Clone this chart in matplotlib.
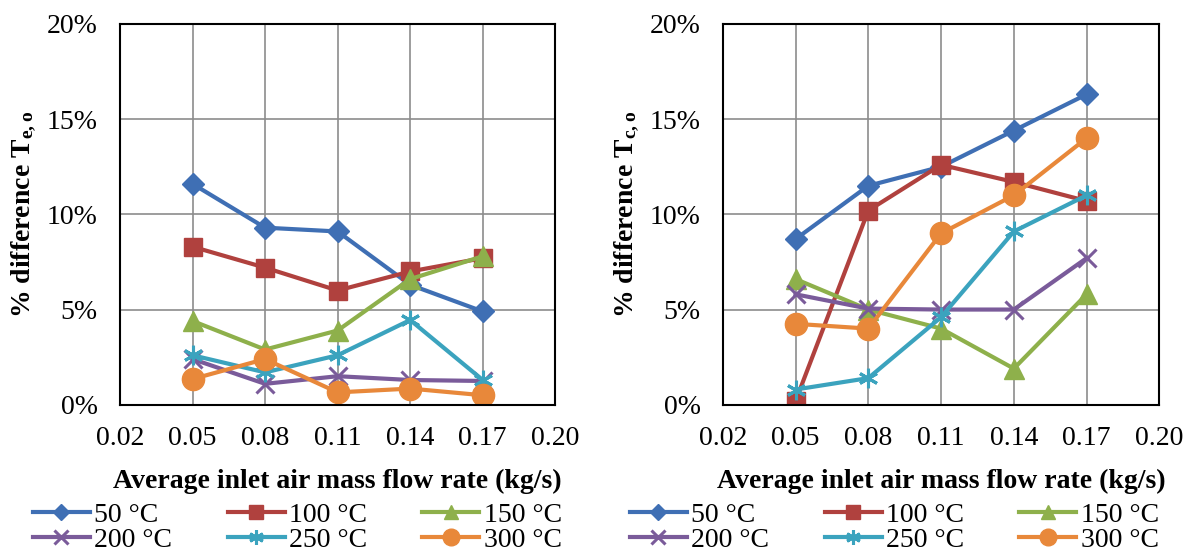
import matplotlib
matplotlib.use('Agg')
import matplotlib.pyplot as plt
from matplotlib.ticker import PercentFormatter


flow = [0.05, 0.08, 0.11, 0.14, 0.17]
x_ticks = [0.02, 0.05, 0.08, 0.11, 0.14, 0.17, 0.20]
labels = ['50 °C', '100 °C', '150 °C', '200 °C', '250 °C', '300 °C']

# % difference T_e,o (left)
te_50 = [11.6, 9.3, 9.1, 6.3, 4.9]
te_100 = [8.3, 7.2, 6.0, 7.0, 7.7]
te_150 = [4.4, 2.9, 3.9, 6.6, 7.8]
te_200 = [2.4, 1.1, 1.5, 1.3, 1.25]
te_250 = [2.6, 1.7, 2.6, 4.45, 1.3]
te_300 = [1.35, 2.4, 0.65, 0.85, 0.5]

# % difference T_c,o (right)
tc_50 = [8.7, 11.5, 12.5, 14.4, 16.3]
tc_100 = [0.2, 10.2, 12.6, 11.7, 10.7]
tc_150 = [6.6, 5.0, 4.0, 1.9, 5.8]
tc_200 = [5.8, 5.05, 5.0, 5.0, 7.7]
tc_250 = [0.8, 1.4, 4.6, 9.1, 11.0]
tc_300 = [4.25, 4.0, 9.0, 11.0, 14.0]

COLORS = ['#3F6FB4', '#B0413E', '#8EB04B', '#7A5B9A', '#3BA3BE', '#E8883A']
MARKERS = ['D', 's', '^', 'x', (6, 2, 0), 'o']
SIZES = [11, 13, 14, 13, 14, 16]

plt.rcParams['font.family'] = ['Liberation Serif', 'DejaVu Serif']
plt.rcParams['mathtext.fontset'] = 'custom'
plt.rcParams['mathtext.rm'] = 'Liberation Serif'
plt.rcParams['mathtext.bf'] = 'Liberation Serif:bold'

FS = 20


def panel(fig, rect, series, ylabel, leg_x):
    ax = fig.add_axes(rect)
    handles = []
    for vals, c, m, s, lab in zip(series, COLORS, MARKERS, SIZES, labels):
        mew = 2.2 if m in ('x', (6, 2, 0)) else 1
        h, = ax.plot(flow, vals, color=c, marker=m, markersize=s, lw=3,
                     markeredgewidth=mew, label=lab)
        handles.append(h)
    ax.set_xlim(0.02, 0.20)
    ax.set_ylim(0, 20)
    ax.set_xticks(x_ticks)
    ax.set_xticklabels(['%.2f' % t for t in x_ticks])
    ax.set_yticks([0, 5, 10, 15, 20])
    ax.yaxis.set_major_formatter(PercentFormatter(decimals=0))
    ax.grid(True, color='#8c8c8c', lw=1.2)
    ax.set_axisbelow(True)
    ax.tick_params(labelsize=FS, length=0)
    ax.tick_params(axis='x', pad=15)
    ax.tick_params(axis='y', pad=16)
    for sp in ax.spines.values():
        sp.set_linewidth(1.5)
    ax.set_xlabel('Average inlet air mass flow rate (kg/s)', fontsize=FS,
                  fontweight='bold', labelpad=13)
    ax.set_ylabel(ylabel, fontsize=FS, fontweight='bold', labelpad=6)
    # row-major legend order: 50,100,150 / 200,250,300
    order = [0, 3, 1, 4, 2, 5]
    fig.legend(handles=[handles[i] for i in order], ncol=3, loc='upper left',
               bbox_to_anchor=(leg_x, 0.097), frameon=False, fontsize=FS,
               handlelength=2.05, handletextpad=0.15, columnspacing=2.0,
               labelspacing=0.0, borderaxespad=0, borderpad=0,
               markerscale=0.75)
    return ax


fig = plt.figure(figsize=(11.83, 5.56), dpi=100)
panel(fig, [0.1014, 0.272, 0.368, 0.685],
      [te_50, te_100, te_150, te_200, te_250, te_300],
      r'% difference $\mathbf{T_{e,o}}$', 0.0279)
panel(fig, [0.611, 0.272, 0.369, 0.685],
      [tc_50, tc_100, tc_150, tc_200, tc_250, tc_300],
      r'% difference $\mathbf{T_{c,o}}$', 0.5325)
fig.savefig('out.png', dpi=100)
